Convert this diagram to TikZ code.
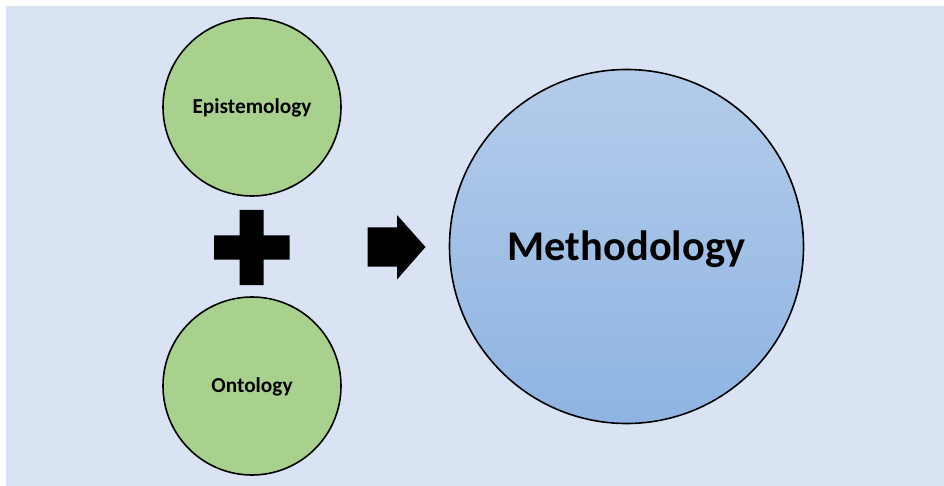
\documentclass[tikz,border=0pt]{standalone}
\usepackage{fontspec}
\setmainfont{Carlito}
\definecolor{bgblue}{HTML}{DAE3F3}
\definecolor{leafgreen}{HTML}{A9D18E}
\definecolor{skytop}{HTML}{B4CCEA}
\definecolor{skybottom}{HTML}{8EB4E3}
\tikzset{
  smallcircle/.style={circle, draw=black, line width=1.6pt, fill=leafgreen,
    minimum size=178pt, inner sep=0pt, text height=13.7pt, text depth=0pt,
    font=\fontsize{21.3}{24}\selectfont\bfseries},
  bigcircle/.style={circle, draw=black, line width=1.6pt,
    top color=skytop, bottom color=skybottom,
    minimum size=354pt, inner sep=0pt, text height=27.3pt, text depth=0pt,
    font=\fontsize{42.4}{48}\selectfont\bfseries},
  solidmark/.style={fill=black, draw=none}
}
\begin{document}
\begin{tikzpicture}[x=1pt, y=-1pt]
  % canvas with a thin white edge on the top and left
  \useasboundingbox (0,0) rectangle (944,486);
  \fill[white] (0,0) rectangle (944,486);
  \fill[bgblue] (6,6) rectangle (944,486);

  % the two inputs
  \node[smallcircle] (epi) at (252,107) {Epistemology};
  \node[smallcircle] (onto) at (252,386) {Ontology};

  % the result
  \node[bigcircle] (meth) at (626.5,246.5) {Methodology};

  % plus sign between the inputs
  \path[solidmark] (239.5,210) -- (263.5,210) -- (263.5,235.5) -- (289.5,235.5)
    -- (289.5,259.5) -- (263.5,259.5) -- (263.5,285) -- (239.5,285)
    -- (239.5,259.5) -- (214,259.5) -- (214,235.5) -- (239.5,235.5) -- cycle;

  % block arrow pointing to the result
  \path[solidmark] (367.5,227.5) -- (397,227.5) -- (397,215) -- (425.5,247)
    -- (397,279.5) -- (397,266.5) -- (367.5,266.5) -- cycle;
\end{tikzpicture}
\end{document}
